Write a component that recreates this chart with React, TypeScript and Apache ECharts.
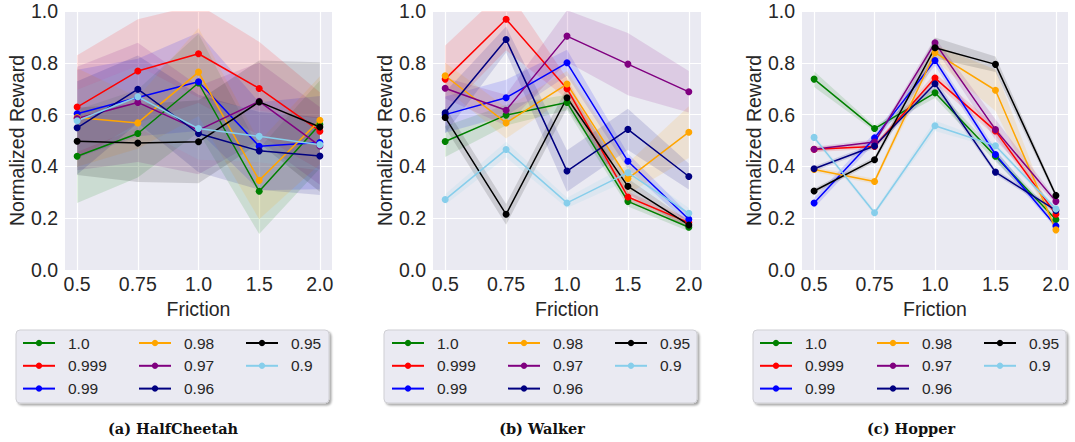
import React, { useEffect, useRef } from "react";
import * as echarts from "echarts";

const frictionLabels = ["0.5", "0.75", "1.0", "1.5", "2.0"];
const gammaNames = ["1.0", "0.999", "0.99", "0.98", "0.97", "0.96", "0.95", "0.9"];
const gammaColors = ["#008000", "#ff0000", "#0000ff", "#ffa500", "#800080", "#000080", "#000000", "#87ceeb"];
const envTitles = ["(a) HalfCheetah", "(b) Walker", "(c) Hopper"];

// mean rewards, one row per gamma (same order as gammaNames)
const halfCheetahMean = [
  [0.439, 0.527, 0.722, 0.304, 0.562],
  [0.629, 0.768, 0.835, 0.701, 0.536],
  [0.603, 0.666, 0.727, 0.478, 0.492],
  [0.589, 0.568, 0.764, 0.346, 0.578],
  [0.585, 0.647, 0.54, 0.651, 0.479],
  [0.549, 0.698, 0.527, 0.46, 0.44],
  [0.497, 0.49, 0.495, 0.649, 0.552],
  [0.576, 0.669, 0.546, 0.516, 0.484],
];
const halfCheetahStd = [
  [0.18, 0.17, 0.19, 0.165, 0.17],
  [0.2, 0.2, 0.19, 0.18, 0.15],
  [0.17, 0.15, 0.19, 0.17, 0.18],
  [0.19, 0.1, 0.17, 0.15, 0.17],
  [0.2, 0.23, 0.17, 0.15, 0.15],
  [0.18, 0.13, 0.15, 0.15, 0.15],
  [0.13, 0.15, 0.16, 0.16, 0.25],
  [0.12, 0.12, 0.12, 0.1, 0.1],
];

const walkerMean = [
  [0.496, 0.598, 0.647, 0.265, 0.165],
  [0.737, 0.968, 0.7, 0.282, 0.183],
  [0.6, 0.665, 0.8, 0.42, 0.196],
  [0.75, 0.568, 0.718, 0.353, 0.532],
  [0.702, 0.617, 0.903, 0.795, 0.688],
  [0.607, 0.89, 0.382, 0.543, 0.361],
  [0.589, 0.215, 0.665, 0.323, 0.174],
  [0.272, 0.465, 0.259, 0.376, 0.219],
];
const walkerStd = [
  [0.06, 0.04, 0.03, 0.02, 0.015],
  [0.13, 0.12, 0.04, 0.02, 0.015],
  [0.07, 0.07, 0.05, 0.03, 0.02],
  [0.05, 0.06, 0.05, 0.06, 0.1],
  [0.04, 0.06, 0.1, 0.12, 0.08],
  [0.08, 0.05, 0.08, 0.08, 0.05],
  [0.04, 0.04, 0.04, 0.03, 0.015],
  [0.02, 0.03, 0.02, 0.03, 0.02],
];

const hopperMean = [
  [0.737, 0.546, 0.684, 0.439, 0.195],
  [0.466, 0.477, 0.741, 0.537, 0.215],
  [0.259, 0.51, 0.809, 0.446, 0.17],
  [0.388, 0.342, 0.839, 0.694, 0.155],
  [0.466, 0.494, 0.877, 0.542, 0.265],
  [0.391, 0.479, 0.719, 0.378, 0.23],
  [0.305, 0.426, 0.858, 0.794, 0.288],
  [0.512, 0.221, 0.557, 0.48, 0.236],
];
const hopperStd = [
  [0.03, 0.01, 0.02, 0.02, 0.01],
  [0.01, 0.01, 0.02, 0.02, 0.01],
  [0.02, 0.02, 0.02, 0.02, 0.01],
  [0.01, 0.01, 0.03, 0.08, 0.01],
  [0.01, 0.01, 0.02, 0.04, 0.01],
  [0.01, 0.01, 0.02, 0.01, 0.01],
  [0.01, 0.01, 0.04, 0.03, 0.01],
  [0.01, 0.01, 0.02, 0.01, 0.01],
];

const envMeans = [halfCheetahMean, walkerMean, hopperMean];
const envStds = [halfCheetahStd, walkerStd, hopperStd];

const SANS = "'Liberation Sans', Arial, sans-serif";
const TXT = "#262626";

const grids = [
  { left: 65, top: 11, width: 267, height: 259 },
  { left: 433, top: 11, width: 268, height: 259 },
  { left: 802, top: 11, width: 266, height: 259 },
];
const legendBoxes = [
  { x: 16, cols: [22, 138, 245] },
  { x: 384, cols: [391, 507, 614] },
  { x: 753, cols: [759, 876, 983] },
];
const captionX = [173, 542, 911];

function hexToRgba(hex: string, a: number) {
  const n = parseInt(hex.slice(1), 16);
  return `rgba(${(n >> 16) & 255},${(n >> 8) & 255},${n & 255},${a})`;
}

function buildOption() {
  const series: any[] = [];
  const xAxis: any[] = [];
  const yAxis: any[] = [];
  const legend: any[] = [];
  const graphic: any[] = [];

  grids.forEach((_, g) => {
    xAxis.push({
      type: "value",
      gridIndex: g,
      min: -0.2,
      max: 4.2,
      name: "Friction",
      nameLocation: "middle",
      nameGap: 20,
      nameTextStyle: { fontSize: 19.5, color: TXT, fontFamily: SANS },
      axisLine: { show: false },
      axisTick: { show: false, customValues: [0, 1, 2, 3, 4] },
      axisLabel: {
        customValues: [0, 1, 2, 3, 4],
        formatter: (v: number) => frictionLabels[Math.round(v)],
        fontSize: 19.5,
        color: TXT,
        fontFamily: SANS,
        margin: 4,
      },
      splitLine: { show: true, lineStyle: { color: "#ffffff", width: 1.2 } },
    });
    yAxis.push({
      type: "value",
      gridIndex: g,
      min: 0,
      max: 1,
      interval: 0.2,
      name: "Normalized Reward",
      nameLocation: "middle",
      nameGap: 38,
      nameTextStyle: { fontSize: 19.5, color: TXT, fontFamily: SANS },
      axisLine: { show: false },
      axisTick: { show: false },
      axisLabel: {
        formatter: (v: number) => v.toFixed(1),
        fontSize: 19.5,
        color: TXT,
        fontFamily: SANS,
        margin: 7,
      },
      splitLine: { show: true, lineStyle: { color: "#ffffff", width: 1.2 } },
    });

    const means = envMeans[g];
    const stds = envStds[g];
    // std bands (mean ± std), one polygon each
    gammaNames.forEach((name, i) => {
      const lo = means[i].map((m, k) => m - stds[i][k]);
      const hi = means[i].map((m, k) => m + stds[i][k]);
      const fill = hexToRgba(gammaColors[i], 0.13);
      series.push({
        type: "custom",
        name: `band-${g}-${i}`,
        xAxisIndex: g,
        yAxisIndex: g,
        silent: true,
        clip: true,
        z: 1,
        data: lo.map((v, k) => [k, v, hi[k]]),
        encode: { x: 0, y: [1, 2] },
        renderItem: (params: any, api: any) => {
          if (params.dataIndex !== 0) return null;
          const top = hi.map((v, k) => api.coord([k, v]));
          const bottom = lo.map((v, k) => api.coord([k, v])).reverse();
          const cs = params.coordSys;
          return {
            type: "polygon",
            shape: { points: top.concat(bottom) },
            style: { fill },
            clipPath: { type: "rect", shape: { x: cs.x, y: cs.y, width: cs.width, height: cs.height } },
          };
        },
      });
    });
    // mean lines
    gammaNames.forEach((name, i) => {
      series.push({
        type: "line",
        name,
        xAxisIndex: g,
        yAxisIndex: g,
        data: means[i].map((m, k) => [k, m]),
        symbol: "circle",
        symbolSize: 7,
        showSymbol: true,
        color: gammaColors[i],
        lineStyle: { color: gammaColors[i], width: 1.5 },
        itemStyle: { color: gammaColors[i] },
        z: 3,
      });
    });

    const box = legendBoxes[g];
    graphic.push({
      type: "rect",
      shape: { x: box.x, y: 330, width: 313, height: 73, r: 4 },
      style: {
        fill: "#eaeaf2",
        stroke: "#cfcfd4",
        lineWidth: 1,
        shadowBlur: 2,
        shadowOffsetX: 2,
        shadowOffsetY: 2,
        shadowColor: "rgba(0,0,0,0.35)",
      },
      z: 0,
    });
    [0, 1, 2].forEach((c) => {
      legend.push({
        orient: "vertical",
        left: box.cols[c],
        top: 335,
        padding: 0,
        itemWidth: 32,
        itemHeight: 8,
        itemGap: 6.8,
        selectedMode: false,
        data: gammaNames.slice(c * 3, c * 3 + 3),
        textStyle: { fontSize: 15.5, color: TXT, fontFamily: SANS, padding: [0, 0, 0, 8] },
        z: 5,
      });
    });
    graphic.push({
      type: "text",
      x: captionX[g],
      y: 428,
      style: {
        text: envTitles[g],
        font: "bold 14.5px 'DejaVu Serif', serif",
        fill: "#111111",
        textAlign: "center",
        textVerticalAlign: "middle",
      },
      z: 5,
    });
  });

  return {
    animation: false,
    backgroundColor: "#ffffff",
    grid: grids.map((gr) => ({
      ...gr,
      show: true,
      backgroundColor: "#eaeaf2",
      borderWidth: 0,
    })),
    xAxis,
    yAxis,
    legend,
    graphic,
    series,
  };
}

export default function App() {
  const ref = useRef<HTMLDivElement>(null);
  useEffect(() => {
    if (!ref.current) return;
    const chart = echarts.init(ref.current, null, { renderer: "svg" });
    chart.setOption(buildOption() as any);
    return () => chart.dispose();
  }, []);
  return (
    <div
      ref={ref}
      style={{ position: "fixed", left: 0, top: 0, width: 1075, height: 442 }}
    />
  );
}
